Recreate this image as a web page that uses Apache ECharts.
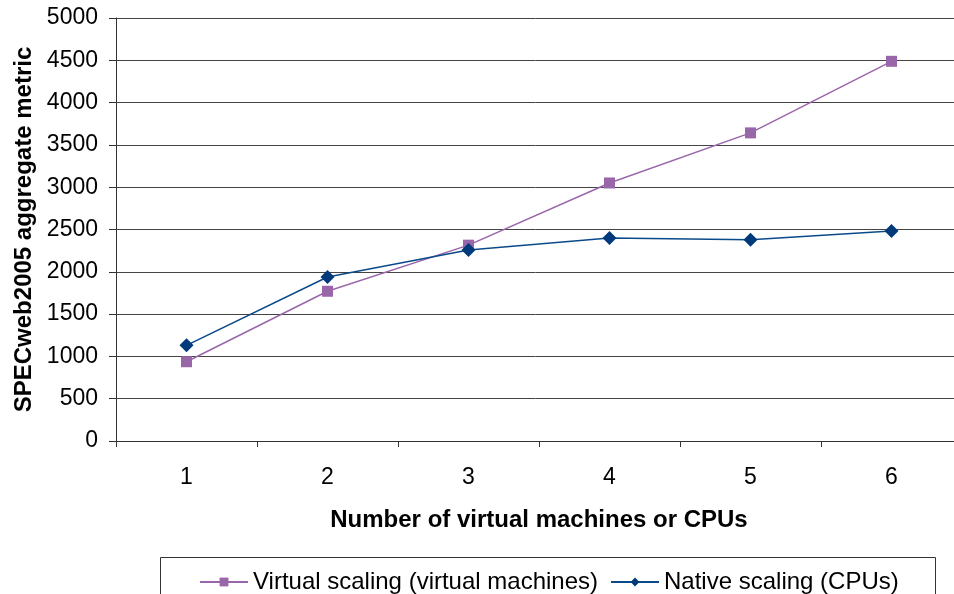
<!DOCTYPE html>
<html>
<head>
<meta charset="utf-8">
<script src="https://cdn.jsdelivr.net/npm/echarts@6/dist/echarts.min.js"></script>
<style>html,body{margin:0;padding:0;background:#fff}#c{width:954px;height:594px}</style>
</head>
<body>
<div id="c"></div>
<script>
var categories = ['1', '2', '3', '4', '5', '6'];
var virtualScaling = [937, 1770, 2315, 3050, 3642, 4488];
var nativeScaling = [1131, 1939, 2258, 2400, 2380, 2482];
var yTicks = { min: 0, max: 5000, interval: 500 };

var FONT = '"Liberation Sans", Arial, sans-serif';
var chart = echarts.init(document.getElementById('c'), null, { renderer: 'canvas' });
chart.setOption({
  animation: false,
  backgroundColor: '#fff',
  textStyle: { fontFamily: FONT },
  grid: { left: 116, top: 18, width: 846, height: 423, containLabel: false, outerBoundsMode: 'none' },
  graphic: [{
    type: 'rect',
    shape: { x: 160.5, y: 557.5, width: 775, height: 60 },
    style: { fill: '#fff', stroke: '#333', lineWidth: 1 },
    z: 0
  }],
  legend: {
    left: 194, top: 565,
    itemWidth: 48, itemHeight: 11, itemGap: 12,
    textStyle: { fontFamily: FONT, fontSize: 24, color: '#000' },
    data: ['Virtual scaling (virtual machines)', 'Native scaling (CPUs)'],
    z: 5
  },
  xAxis: {
    type: 'category',
    data: categories,
    boundaryGap: true,
    name: 'Number of virtual machines or CPUs',
    nameLocation: 'middle',
    nameGap: 67,
    nameTextStyle: { fontFamily: FONT, fontSize: 24, fontWeight: 'bold', color: '#000' },
    axisLine: { lineStyle: { color: '#333', width: 1 } },
    axisTick: { show: true, length: 6, inside: false, alignWithLabel: false, lineStyle: { color: '#333' } },
    axisLabel: { fontFamily: FONT, fontSize: 23, color: '#000', margin: 25 },
    splitLine: { show: false }
  },
  yAxis: {
    type: 'value',
    min: yTicks.min, max: yTicks.max, interval: yTicks.interval,
    name: 'SPECweb2005 aggregate metric',
    nameLocation: 'middle',
    nameGap: 80,
    nameTextStyle: { fontFamily: FONT, fontSize: 24, fontWeight: 'bold', color: '#000' },
    axisLine: { show: true, lineStyle: { color: '#333', width: 1 } },
    axisTick: { show: true, length: 7, inside: false, lineStyle: { color: '#333' } },
    axisLabel: { fontFamily: FONT, fontSize: 23, color: '#000', margin: 18, formatter: function (v) { return String(v); } },
    splitLine: { show: true, lineStyle: { color: '#444', width: 1 } }
  },
  series: [
    {
      name: 'Virtual scaling (virtual machines)',
      type: 'line',
      data: virtualScaling,
      symbol: 'rect',
      symbolSize: 11,
      itemStyle: { color: '#9966aa' },
      lineStyle: { color: '#9966aa', width: 1.5 },
      z: 3
    },
    {
      name: 'Native scaling (CPUs)',
      type: 'line',
      data: nativeScaling,
      symbol: 'diamond',
      symbolSize: 14,
      itemStyle: { color: '#003a7a' },
      lineStyle: { color: '#0b4a8a', width: 1.5 },
      z: 4
    }
  ]
});
</script>
</body>
</html>
